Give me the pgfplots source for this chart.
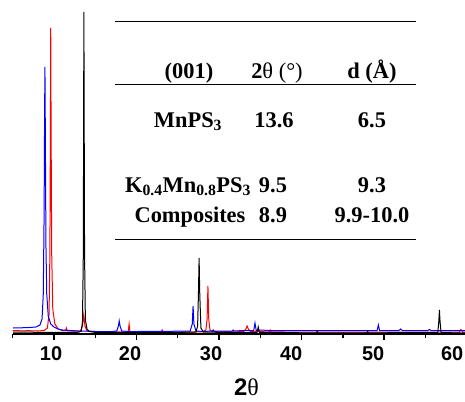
\documentclass[border=0pt]{standalone}
\usepackage{fontspec}
\setmainfont{Liberation Serif}
\setsansfont{Liberation Sans}
\usepackage{pgfplots}
\pgfplotsset{compat=1.18}
\begin{document}
\begin{tikzpicture}[x=1bp,y=1bp]
\useasboundingbox (0,0) rectangle (465,401);
\begin{axis}[at={(12.75bp,67bp)}, anchor=south west, scale only axis,
  width=452.25bp, height=334bp,
  xmin=5, xmax=59.8, ymin=0, ymax=334,
  axis x line=bottom, axis y line=none,
  x axis line style={-, line width=1.6bp},
  tick align=outside, xtick pos=bottom,
  xtick={10,20,30,40,50}, minor xtick={5,15,25,35,45,55},
  xticklabels={},
  major tick length=6bp, minor tick length=4bp,
  tick style={line width=1.3bp, black},
  extra x ticks={9.64,19.21,29.03,38.73,48.67,58.24},
  extra x tick labels={10,20,30,40,50,60},
  extra x tick style={major tick length=0pt, tick style={draw=none}},
  ticklabel style={font=\sffamily\bfseries\fontsize{20}{20}\selectfont, yshift=-9bp},
  xlabel={\sffamily\bfseries 2\textmd{\rmfamily θ}},
  xlabel style={at={(axis description cs:0.517,0)}, anchor=base, yshift=-61bp, font=\fontsize{24}{24}\selectfont},
  every axis plot/.append style={line width=1bp},
]
\addplot[red] coordinates {
(5,3.5) (6,3.2) (7,3.3) (8,3.0) (8.8,3.5) (9.2,6) (9.4,20) (9.5,80) (9.56,200) (9.6,306) (9.65,200) (9.72,80) (9.85,25) (10.1,10) (10.5,5) (11,3.5) (11.4,3.5) (11.5,6) (11.6,3.2) (12.5,2.8) (13.2,3) (13.45,8) (13.6,19) (13.75,8) (14,3) (15,2.5) (16,2.2) (17,2.2) (18,2.0) (19.0,2.2) (19.1,10) (19.2,2.2) (20,2) (22,2) (23,2) (23.1,4) (23.2,2) (25,2) (27,2) (28,2.2) (28.4,4) (28.55,15) (28.65,48) (28.75,15) (28.9,4) (29.3,2.5) (30,2.2) (31,2.3) (32,2.2) (33,2.5) (33.25,5) (33.4,8) (33.55,5) (33.8,2.5) (35,2.3) (36.1,2.2) (36.2,4) (36.3,2.2) (38,2) (40,2) (45,2) (50,2) (55,2) (59.1,2) (59.3,4.5) (59.5,2) (59.8,2)
};
\addplot[blue] coordinates {
(5,6) (6,6.2) (7,6.5) (7.8,7) (8.3,9) (8.55,15) (8.7,40) (8.8,120) (8.86,220) (8.9,267) (8.95,200) (9.02,90) (9.12,40) (9.3,18) (9.6,10) (10,7) (10.5,5) (11,4) (12,3.5) (13,3) (14,2.8) (15,2.5) (16,2.5) (17,2.5) (17.6,3) (17.8,8) (17.9,13) (18.0,8) (18.2,3) (19,2.5) (20,2.5) (22,2.6) (24,2.7) (26.5,3) (26.75,10) (26.85,28) (26.95,10) (27.2,3) (28,2.5) (29.2,3) (29.3,4) (29.4,3) (31.6,3) (31.7,4) (31.8,3) (33,3.5) (34.2,3.5) (34.35,11) (34.5,3.5) (35,4) (36,3.5) (38,3.5) (40,3.5) (42,3.5) (45,3.5) (48,3.5) (49.15,3.5) (49.3,9) (49.45,3.5) (51,3.5) (51.8,3.5) (52,5) (52.2,3.5) (54,3.5) (55.3,3.5) (55.5,4.5) (55.7,3.5) (58,3.5) (59.8,3.5)
};
\addplot[black] coordinates {
(5,2.0) (6,1.8) (7,1.9) (8,1.6) (9,1.7) (10,1.5) (11,1.6) (12,1.5) (13,1.8) (13.3,3) (13.45,12) (13.55,80) (13.62,322) (13.7,80) (13.8,14) (14.0,5) (14.3,2.5) (15,1.6) (16,1.4) (20,1.4) (24,1.4) (27.2,2) (27.4,8) (27.5,40) (27.58,76) (27.66,40) (27.8,6) (28.1,2) (31,1.5) (34.6,1.5) (34.75,7) (34.9,1.5) (38,1.3) (41.8,1.2) (41.9,3) (42,1.2) (47.9,1.2) (48,2.5) (48.1,1.2) (52,1.3) (56.5,1.3) (56.62,12) (56.7,24) (56.78,12) (56.9,1.3) (59.8,1.2)
};
\end{axis}
\draw[line width=1bp] (115,379) -- (416,379);
\draw[line width=1bp] (115,317) -- (416,317);
\draw[line width=1bp] (115,162) -- (416,162);
\begin{scope}[every node/.style={anchor=base, inner sep=0pt, font=\fontsize{22.5}{27}\selectfont\bfseries}]
\node at (189,323) {(001)};
\node at (277,323) {2\textmd{θ (°)}};
\node at (372,323) {d (Å)};
\node at (188,274) {MnPS\textsubscript{3}};
\node at (274,274) {13.6};
\node at (372,274) {6.5};
\node at (188,209) {K\textsubscript{0.4}Mn\textsubscript{0.8}PS\textsubscript{3}};
\node at (273,209) {9.5};
\node at (372,209) {9.3};
\node at (190,179) {Composites};
\node at (273,179) {8.9};
\node at (372,179) {9.9-10.0};
\end{scope}
\end{tikzpicture}
\end{document}
